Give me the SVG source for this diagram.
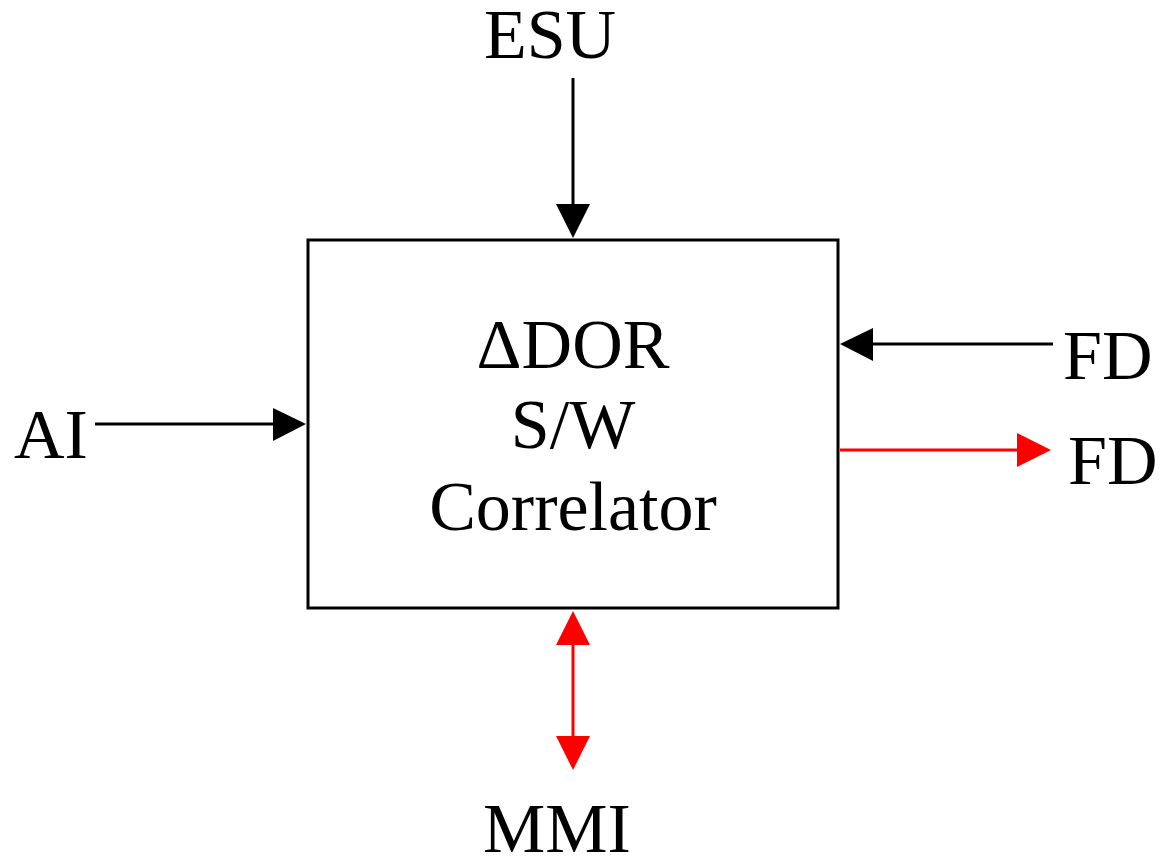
<svg xmlns="http://www.w3.org/2000/svg" width="1161" height="859" viewBox="0 0 1161 859">
<style>
text{font-family:"Liberation Serif","Times New Roman",serif;font-size:70px;fill:#000}
.k{stroke:#000;stroke-width:3;fill:none}
.r{stroke:#f00;stroke-width:3;fill:none}
</style>
<defs>
<marker id="ab" viewBox="0 0 10 10" refX="10" refY="5" markerWidth="10" markerHeight="10" markerUnits="userSpaceOnUse" orient="auto"><path d="M0,0L10,5L0,10z" fill="#000"/></marker>
<marker id="ar" viewBox="0 0 10 10" refX="10" refY="5" markerWidth="10" markerHeight="10" markerUnits="userSpaceOnUse" orient="auto"><path d="M0,0L10,5L0,10z" fill="#f00"/></marker>
</defs>
<rect width="1161" height="859" fill="#fff"/>
<g id="correlator">
<rect x="308" y="240" width="530" height="368" class="k"/>
<text x="573" y="368" text-anchor="middle">ΔDOR</text>
<text x="573" y="448" text-anchor="middle">S/W</text>
<text x="573" y="530" text-anchor="middle">Correlator</text>
</g>
<g id="esu"><text x="550" y="58" text-anchor="middle">ESU</text></g>
<g id="ai"><text x="14" y="458">AI</text></g>
<g id="fd-in"><text x="1063" y="379">FD</text></g>
<g id="fd-out"><text x="1068" y="484">FD</text></g>
<g id="mmi"><text x="557" y="852" text-anchor="middle">MMI</text></g>
<g id="connectors">
<line x1="573" y1="78" x2="573" y2="205" class="k"/>
<path d="M556,204L590,204L573,238z" fill="#000"/>
<line x1="1053" y1="344" x2="872" y2="344" class="k"/>
<path d="M873,328L873,361L840,344z" fill="#000"/>
<line x1="95" y1="424" x2="274" y2="424" class="k"/>
<path d="M273,408L273,441L306,424z" fill="#000"/>
<line x1="840" y1="450" x2="1018" y2="450" class="r"/>
<path d="M1017,433L1017,467L1051,450z" fill="#f00"/>
<line x1="573" y1="644" x2="573" y2="737" class="r"/>
<path d="M556,645L590,645L573,611z" fill="#f00"/>
<path d="M556,736L590,736L573,770z" fill="#f00"/>
</g>
</svg>
